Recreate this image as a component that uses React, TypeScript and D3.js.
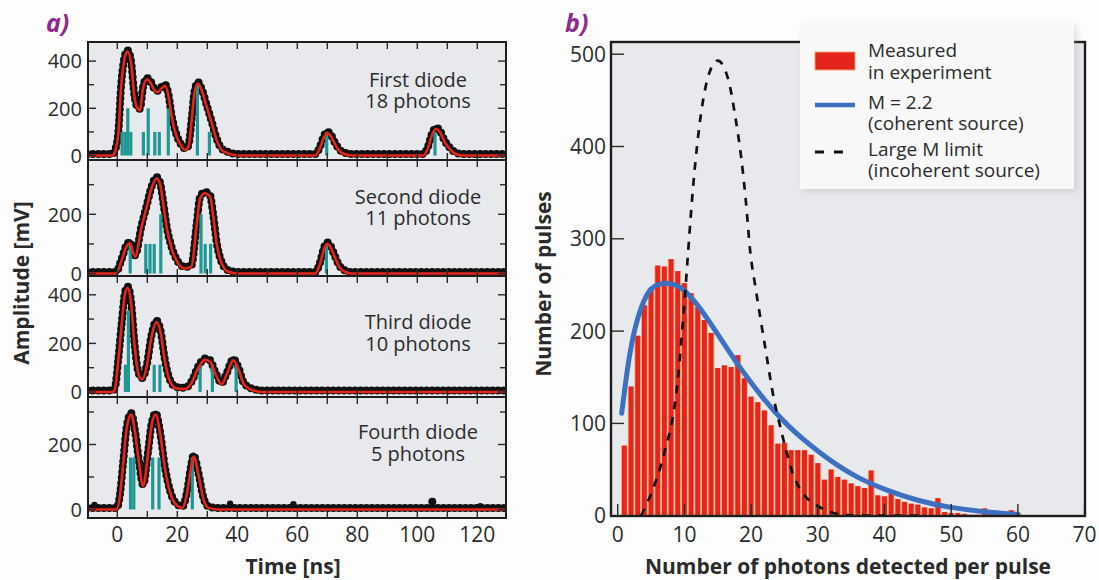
import React from "react";
import * as d3 from "d3";

type Pt = [number, number];

// ---------- Panel a data ----------
const panelTitles = ["First diode", "Second diode", "Third diode", "Fourth diode"];
const photonLabels = ["18 photons", "11 photons", "10 photons", "5 photons"];
const timeTicks = [0, 10, 20, 30, 40, 50, 60, 70, 80, 90, 100, 110, 120];
const timeTickLabels = [0, 20, 40, 60, 80, 100, 120];
const ampMajor = [[0, 200, 400], [0, 200], [0, 200, 400], [0, 200]];
const ampMinor = [[100, 300], [100, 300], [100, 300], [100, 300]];

// fitted signal (red) per diode: [time ns, amplitude mV]
const fit1: Pt[] = [[-10, 0], [-1.5, 0], [-0.8, 15], [0.35, 94], [1.2, 277], [2.3, 404], [3.4, 440], [4.6, 391], [5.7, 249], [6.8, 198], [7.5, 192], [8.7, 292], [9.9, 322], [11, 310], [12.2, 280], [13.4, 268], [14.8, 285], [15.9, 295], [17, 256], [18.1, 165], [19.8, 80], [21.5, 37], [22.6, 23], [23.7, 37], [24.8, 150], [25.7, 263], [26.9, 305], [28.1, 277], [29.8, 207], [31.5, 136], [33.1, 66], [34.8, 23], [37, 9], [40.3, 0], [66, 0], [67.5, 30], [69, 80], [70, 95], [71, 85], [72.5, 50], [74, 20], [76, 5], [78, 0], [102, 0], [103.5, 30], [105, 90], [106.3, 112], [107.5, 100], [109, 60], [111, 25], [113, 5], [115, 0], [130, 0]];
const fit2: Pt[] = [[-10, 0], [-0.5, 0], [1.5, 46], [3, 90], [4.2, 102], [5.9, 57], [8.1, 158], [9.8, 225], [11.4, 288], [13.1, 321], [14.2, 304], [15.3, 237], [16.4, 158], [18.1, 85], [20.3, 34], [22.5, 17], [24.7, 23], [26.4, 158], [27.6, 254], [29.2, 271], [30.9, 260], [32, 192], [33.1, 102], [34.8, 34], [37, 6], [40.3, 0], [66, 0], [67.5, 30], [69, 85], [70, 100], [71, 90], [72.5, 55], [74, 22], [76, 5], [78, 0], [130, 0]];
const fit3: Pt[] = [[-10, 0], [-1.5, 0], [-0.8, 11], [0.35, 132], [1.5, 283], [2.6, 406], [3.5, 428], [4.6, 365], [5.7, 200], [7, 77], [8.3, 52], [9.8, 104], [11.4, 227], [13.1, 288], [14.5, 241], [15.8, 132], [17.4, 49], [19.6, 15], [22.5, 12], [24.7, 36], [26.9, 97], [29.2, 132], [30.9, 125], [32.6, 77], [34.8, 32], [36.4, 70], [38.7, 130], [40.3, 97], [42, 36], [43.7, 15], [45.9, 5], [48, 0], [130, 0]];
const fit4: Pt[] = [[-10, 0], [-0.2, 0], [0.9, 43], [2, 146], [3.1, 248], [4.6, 292], [5.9, 238], [7.2, 146], [8.6, 72], [10.3, 177], [11.4, 258], [12.8, 292], [14.2, 238], [15.9, 125], [17.6, 53], [19.8, 13], [21.7, 5], [23.1, 43], [24.6, 130], [25.4, 163], [27.1, 105], [28.7, 33], [30.4, 5], [33.7, 0], [130, 0]];

// detected photons (teal): [time ns, height mV]
const photons1: Pt[] = [[1.6, 100], [2.6, 100], [3.5, 200], [4.5, 100], [8.7, 100], [10.3, 200], [12.5, 100], [14.0, 100], [17, 200], [26.7, 300], [30.7, 100], [69.8, 100], [105.9, 100]];
const photons2: Pt[] = [[4.3, 100], [9.5, 100], [10.9, 100], [12.3, 100], [14.5, 200], [27.9, 200], [29.3, 100], [31.1, 100], [69.7, 100]];
const photons3: Pt[] = [[2.7, 112], [3.7, 336], [12.3, 112], [14.2, 112], [27.6, 112], [31.7, 112], [39.6, 112]];
const photons4: Pt[] = [[4.4, 160], [5.5, 160], [11.8, 160], [13.9, 160], [25, 160]];

// stray measured samples on the baseline of the fourth diode
const strays4: Pt[] = [[-7.6, 14], [37.6, 18], [58.7, 16], [105, 24], [121, 10]];

// ---------- Panel b data ----------
const photonNumbers = [1, 2, 3, 4, 5, 6, 7, 8, 9, 10, 11, 12, 13, 14, 15, 16, 17, 18, 19, 20, 21, 22, 23, 24, 25, 26, 27, 28, 29, 30, 31, 32, 33, 34, 35, 36, 37, 38, 39, 40, 41, 42, 43, 44, 45, 46, 47, 48, 49, 50, 51, 52, 53, 54, 55, 56, 57, 58, 59, 60];
const pulseCounts = [76, 140, 195, 228, 247, 271, 270, 278, 265, 252, 241, 226, 212, 198, 160, 163, 161, 174, 149, 129, 123, 114, 98, 78, 79, 71, 71, 71, 66, 57, 39, 50, 42, 39, 35, 32, 30, 49, 22, 21, 24, 18, 15, 13, 12, 9, 8, 19, 4, 3, 3, 2, 1, 1, 8, 3, 4, 3, 6, 3];
const coherentFit: Pt[] = [[0.6, 111], [1.6, 169], [2.6, 205], [3.6, 228], [4.6, 243], [5.6, 250], [7.6, 253], [9.6, 248], [11.6, 232], [13.6, 212], [15.6, 190], [17.6, 168], [19.6, 148], [21.6, 129], [23.6, 112], [25.6, 97], [27.6, 84], [30, 70], [33, 54], [36, 41], [40, 28], [45, 16], [50, 8.5], [55, 4], [60, 1.5]];
const incoherentFit: Pt[] = [[3.5, 0], [4.5, 15], [5.6, 35], [6.5, 55], [7.35, 78], [8.1, 100], [8.95, 143], [9.6, 195], [10.1, 240], [10.5, 280], [11.35, 360], [12.5, 436], [13.8, 481], [15.0, 493], [16.6, 472], [17.7, 429], [18.5, 389], [19.2, 342], [19.9, 284], [20.6, 250], [21.35, 216], [22.35, 172], [23.35, 129], [24.35, 97], [25.35, 68], [26.35, 44], [27.6, 26], [29, 15], [30.1, 10], [33.2, 1.5], [36.5, 0], [45, 0]];
const countTicks = [0, 100, 200, 300, 400, 500];
const photonTicks = [0, 10, 20, 30, 40, 50, 60, 70];
const legendLabels = [["Measured", "in experiment"], ["M = 2.2", "(coherent source)"], ["Large M limit", "(incoherent source)"]];

const FONT = "'Open Sans', 'Noto Sans', sans-serif";
const RED = "#e5251c";
const TEAL = "#1f9895";
const BLUE = "#3d70c0";
const BG = "#e7e9ec";
const INK = "#2b2b2b";

export default function App() {
  const W = 1099, H = 580;
  // panel a geometry
  const aL = 88, aR = 506;
  const xA = d3.scaleLinear().domain([-10, 130]).range([87.3, 507.3]);
  const boxes = [
    { top: 42, bottom: 160, y0: 155.5, per100: 23.6, t1: 86.5 },
    { top: 160, bottom: 276, y0: 273.5, per100: 29.6, t1: 203.5 },
    { top: 276, bottom: 397, y0: 392, per100: 24.3, t1: 329 },
    { top: 397, bottom: 518, y0: 509.5, per100: 32.5, t1: 439 },
  ];
  const fits = [fit1, fit2, fit3, fit4];
  const photons = [photons1, photons2, photons3, photons4];

  // panel b geometry
  const bL = 611, bR = 1085, bT = 42, bB = 516;
  const xB = d3.scaleLinear().domain([0, 70]).range([617.7, 1084.6]);
  const yB = d3.scaleLinear().domain([0, 500]).range([515.7, 54.2]);
  const lineB = d3.line<Pt>().x(d => xB(d[0])).y(d => yB(d[1])).curve(d3.curveMonotoneX);
  const lineSmooth = d3.line<Pt>().x(d => xB(d[0])).y(d => yB(d[1])).curve(d3.curveBasis);

  return (
    <svg width={W} height={H} style={{ position: "absolute", left: 0, top: 0, display: "block" }} fontFamily={FONT}>
      <rect x={0} y={0} width={W} height={H} fill="#fdfdfd" />
      <defs>
        {boxes.map((b, i) => (
          <clipPath id={`clipA${i}`} key={i}>
            <rect x={aL} y={b.top} width={aR - aL} height={b.bottom - b.top} />
          </clipPath>
        ))}
        <clipPath id="clipB">
          <rect x={bL} y={bT} width={bR - bL} height={bB - bT} />
        </clipPath>
        <filter id="shadow" x="-10%" y="-10%" width="120%" height="120%">
          <feGaussianBlur stdDeviation="3" />
        </filter>
      </defs>

      {/* ---------------- Panel a ---------------- */}
      <text x={46} y={32} fontSize={25} fontWeight={700} fontStyle="italic" fill="#8d2a8b">a)</text>
      {boxes.map((b, i) => {
        const yS = d3.scaleLinear().domain([0, 100]).range([b.y0, b.y0 - b.per100]);
        const line = d3.line<Pt>().x(d => xA(d[0])).y(d => yS(d[1])).curve(d3.curveMonotoneX);
        const path = line(fits[i]) || "";
        return (
          <g key={i}>
            <rect x={aL} y={b.top} width={aR - aL} height={b.bottom - b.top} fill={BG} />
            <g clipPath={`url(#clipA${i})`}>
              <path d={path} fill="none" stroke="#111" strokeWidth={5.5} strokeLinejoin="round" transform="translate(0,-1.4)" />
              <path d={path} fill="none" stroke="#111" strokeWidth={8} strokeDasharray="0 5.5" strokeLinecap="round" transform="translate(0,-1.4)" />
              {i === 3 && strays4.map((d, j) => (
                <circle key={j} cx={xA(d[0])} cy={yS(d[1])} r={j === 3 ? 4 : 3.2} fill="#111" />
              ))}
              {photons[i].map((d, j) => (
                <rect key={j} x={xA(d[0]) - 1.6} y={yS(d[1])} width={3.2} height={yS(0) - yS(d[1])} fill={TEAL} />
              ))}
              <path d={path} fill="none" stroke={RED} strokeWidth={2.6} />
            </g>
            {/* ticks */}
            {timeTicks.map(t => (
              <g key={t} stroke={INK} strokeWidth={1.4}>
                <line x1={xA(t)} x2={xA(t)} y1={b.top} y2={b.top + 7} />
                <line x1={xA(t)} x2={xA(t)} y1={b.bottom} y2={b.bottom - 7} />
              </g>
            ))}
            {ampMajor[i].map(v => (
              <g key={v}>
                <line x1={aL} x2={aL + 8} y1={yS(v)} y2={yS(v)} stroke={INK} strokeWidth={1.4} />
                <line x1={aR} x2={aR - 8} y1={yS(v)} y2={yS(v)} stroke={INK} strokeWidth={1.4} />
                <text x={82} y={yS(v)} dy="0.36em" textAnchor="end" fontSize={20} fill={INK}>{v}</text>
              </g>
            ))}
            {ampMinor[i].map(v => (
              <g key={v} stroke={INK} strokeWidth={1.4}>
                <line x1={aL} x2={aL + 6} y1={yS(v)} y2={yS(v)} />
                <line x1={aR} x2={aR - 6} y1={yS(v)} y2={yS(v)} />
              </g>
            ))}
            <text x={418} y={b.t1} textAnchor="middle" fontSize={20} fill={INK}>{panelTitles[i]}</text>
            <text x={418} y={b.t1 + 21.5} textAnchor="middle" fontSize={20} fill={INK}>{photonLabels[i]}</text>
            <rect x={aL} y={b.top} width={aR - aL} height={b.bottom - b.top} fill="none" stroke="#1e1e1e" strokeWidth={2} />
          </g>
        );
      })}
      {timeTickLabels.map(t => (
        <text key={t} x={xA(t)} y={541.7} textAnchor="middle" fontSize={21} fill={INK}>{t}</text>
      ))}
      <text x={293} y={574} textAnchor="middle" fontSize={21} fontWeight={700} fill={INK}>Time [ns]</text>
      <text transform="translate(29,283) rotate(-90)" textAnchor="middle" fontSize={21} fontWeight={700} fill={INK}>Amplitude [mV]</text>

      {/* ---------------- Panel b ---------------- */}
      <text x={565} y={32} fontSize={25} fontWeight={700} fontStyle="italic" fill="#8d2a8b">b)</text>
      <rect x={bL} y={bT} width={bR - bL} height={bB - bT} fill={BG} />
      <g clipPath="url(#clipB)">
        {photonNumbers.map((n, i) => (
          <g key={n}>
            <rect x={xB(n - 0.5)} y={yB(pulseCounts[i])} width={xB(n + 0.5) - xB(n - 0.5)} height={yB(0) - yB(pulseCounts[i])} fill="#f0b489" />
            <rect x={xB(n - 0.5) + 0.9} y={yB(pulseCounts[i])} width={xB(n + 0.5) - xB(n - 0.5) - 1.8} height={yB(0) - yB(pulseCounts[i])} fill={RED} />
          </g>
        ))}
        <path d={lineSmooth(coherentFit) || ""} fill="none" stroke={BLUE} strokeWidth={5} strokeLinecap="round" />
        <path d={lineB(incoherentFit) || ""} fill="none" stroke="#111" strokeWidth={2.7} strokeDasharray="8 8" />
      </g>
      {photonTicks.map(t => (
        <g key={t}>
          <line x1={xB(t)} x2={xB(t)} y1={bB} y2={bB - 12} stroke={INK} strokeWidth={1.4} />
          <text x={xB(t)} y={541.7} textAnchor="middle" fontSize={21} fill={INK}>{t}</text>
        </g>
      ))}
      {countTicks.map(v => (
        <g key={v}>
          <line x1={bL} x2={bL + 13} y1={yB(v)} y2={yB(v)} stroke={INK} strokeWidth={1.4} />
          <text x={606} y={yB(v)} dy="0.36em" textAnchor="end" fontSize={21} fill={INK}>{v}</text>
        </g>
      ))}
      <rect x={bL} y={bT} width={bR - bL} height={bB - bT} fill="none" stroke="#1e1e1e" strokeWidth={2.4} />

      {/* legend */}
      <rect x={803} y={25} width={274} height={167} fill="#9aa0a6" opacity={0.3} filter="url(#shadow)" />
      <rect x={800} y={22} width={274} height={167} fill="#f8f8f8" />
      <rect x={815} y={52} width={40} height={18} fill={RED} stroke="#f0a070" strokeWidth={1} />
      <line x1={815} x2={855} y1={105} y2={105} stroke={BLUE} strokeWidth={4.5} />
      <line x1={815} x2={845} y1={152} y2={152} stroke="#111" strokeWidth={3} strokeDasharray="9 10" />
      {legendLabels.map((lines, i) => (
        <g key={i}>
          <text x={868} y={[57, 108.5, 155.5][i]} fontSize={19} fill={INK}>{lines[0]}</text>
          <text x={868} y={[78.5, 130, 177][i]} fontSize={19} fill={INK}>{lines[1]}</text>
        </g>
      ))}

      <text x={848} y={574} textAnchor="middle" fontSize={21} fontWeight={700} fill={INK}>Number of photons detected per pulse</text>
      <text transform="translate(551,284) rotate(-90)" textAnchor="middle" fontSize={21} fontWeight={700} fill={INK}>Number of pulses</text>
    </svg>
  );
}
